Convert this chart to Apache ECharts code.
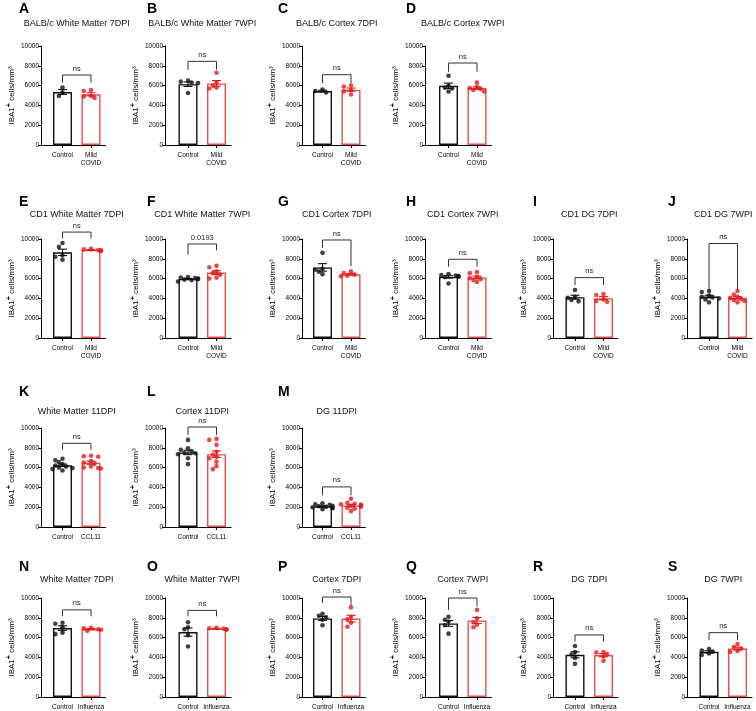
<!DOCTYPE html>
<html><head><meta charset="utf-8">
<script src="https://cdn.jsdelivr.net/npm/echarts@6/dist/echarts.min.js"></script>
<style>html,body{margin:0;padding:0;background:#fff}#c{width:756px;height:711px}</style>
</head><body><div id="c"></div>
<script>
// ---------------- DATA ----------------
const panelLetters = ['A','B','C','D','E','F','G','H','I','J','K','L','M','N','O','P','Q','R','S'];
const panelTitles = [
  'BALB/c White Matter 7DPI','BALB/c White Matter 7WPI','BALB/c Cortex 7DPI','BALB/c Cortex 7WPI',
  'CD1 White Matter 7DPI','CD1 White Matter 7WPI','CD1 Cortex 7DPI','CD1 Cortex 7WPI','CD1 DG 7DPI','CD1 DG 7WPI',
  'White Matter 11DPI','Cortex 11DPI','DG 11DPI',
  'White Matter 7DPI','White Matter 7WPI','Cortex 7DPI','Cortex 7WPI','DG 7DPI','DG 7WPI'
];
const labelsCOVID = ['Control', 'Mild\nCOVID'];
const labelsCCL11 = ['Control', 'CCL11'];
const labelsFlu = ['Control', 'Influenza'];
const yAxisTicks = [0, 2000, 4000, 6000, 8000, 10000];

const A_control = [5800, 5300, 4950];
const A_treated = [5550, 5450, 4950, 4900, 4750];
const B_control = [6500, 6400, 6300, 6250, 5250];
const B_treated = [7300, 6300, 6000, 5800, 5700];
const C_control = [5600, 5450, 5300];
const C_treated = [6000, 5900, 5550, 5400, 5100];
const D_control = [7000, 6000, 5800, 5700, 5400];
const D_treated = [6300, 5850, 5750, 5650, 5550, 5400];
const E_control = [9600, 9200, 8350, 8200, 7900];
const E_treated = [9000, 8950, 8880, 8850, 8800];
const F_control = [6150, 6100, 6050, 6000, 5950, 5900, 5850, 5700];
const F_treated = [7300, 7150, 6750, 6550, 6400, 6100, 6000];
const G_control = [8600, 7000, 6900, 6700, 6450];
const G_treated = [6700, 6550, 6400, 6300, 6250];
const H_control = [6450, 6350, 6300, 6250, 6200, 6150, 5500];
const H_treated = [6650, 6550, 6150, 6050, 5950, 5850, 5650];
const I_control = [4850, 4150, 4050, 3850, 3700];
const I_treated = [4450, 4350, 3900, 3750, 3650];
const J_control = [4750, 4650, 4300, 4150, 4100, 4000, 3900, 3600];
const J_treated = [4750, 4400, 4150, 4050, 3950, 3850, 3750, 3600];
const K_control = [6900, 6750, 6550, 6350, 6200, 6100, 6000, 5950, 5850, 5700];
const K_treated = [7200, 7150, 7100, 6650, 6500, 6400, 6100, 6000, 5950, 5900];
const L_control = [8800, 7950, 7800, 7650, 7500, 7450, 7350, 6950, 6350];
const L_treated = [8900, 8800, 8300, 7600, 7300, 7100, 6950, 6600, 6150, 5850];
const M_control = [2400, 2300, 2250, 2150, 2100, 2050, 2000, 1950, 1900, 1800];
const M_treated = [2850, 2450, 2350, 2300, 2250, 2200, 2150, 2050, 1950, 1850, 1600];
const N_control = [7500, 7400, 7050, 6500, 6350];
const N_treated = [7000, 6950, 6850, 6800, 6700];
const O_control = [7550, 7050, 6850, 6250, 5100];
const O_treated = [7000, 6950, 6900, 6850, 6800];
const P_control = [8400, 8200, 8050, 7800, 7250];
const P_treated = [9050, 8100, 7850, 7500, 7100];
const Q_control = [8100, 7800, 7600, 7250, 6400];
const Q_treated = [8800, 7950, 7550, 7300, 7050];
const R_control = [5150, 4550, 4300, 3950, 3350];
const R_treated = [4550, 4500, 4350, 4100, 3650];
const S_control = [4850, 4700, 4600, 4400, 4250];
const S_treated = [5350, 5050, 4900, 4650, 4550];

// significance brackets (data units): level, left-arm end, right-arm end, label
const bracketTop   = [7070, 8450, 7100, 8280, 10700, 9500, 9900, 7950, 6100, 9550, 8450, 10100, 4050, 8800, 8750, 10100, 10000, 6270, 6500];
const bracketLeft  = [6300, 7600, 6250, 7400, 10050, 8400, 9100, 7200, 5350, 4900, 7800, 9300, 3200, 8150, 8150, 9500, 8800, 5600, 5750];
const bracketRight = [6300, 7600, 6250, 7400, 10050, 8850, 7250, 7200, 5350, 4900, 7800, 9300, 3200, 8150, 8150, 9200, 9150, 5600, 5750];
const pLabels = ['ns','ns','ns','ns','ns','0.0193','ns','ns','ns','ns','ns','ns','ns','ns','ns','ns','ns','ns','ns'];

// ---------------- LAYOUT ----------------
const controlGroups = [A_control,B_control,C_control,D_control,E_control,F_control,G_control,H_control,I_control,J_control,K_control,L_control,M_control,N_control,O_control,P_control,Q_control,R_control,S_control];
const treatedGroups = [A_treated,B_treated,C_treated,D_treated,E_treated,F_treated,G_treated,H_treated,I_treated,J_treated,K_treated,L_treated,M_treated,N_treated,O_treated,P_treated,Q_treated,R_treated,S_treated];
const panelRow = [0,0,0,0,1,1,1,1,1,1,2,2,2,3,3,3,3,3,3];
const panelCol = [0,1,2,3,0,1,2,3,4,5,0,1,2,0,1,2,3,4,5];
const rowLabels = [labelsCOVID, labelsCOVID, labelsCCL11, labelsFlu];

const colAxisX = [41, 165, 302, 425, 553, 687];
const colCtrlX = [62.5, 188, 322.5, 448.5, 575, 709];
const rowTop = [46, 239, 428, 598];
const plotH = 99;
const letterX = [19, 147, 278, 406, 533, 668];
const letterY = [9, 202, 392, 567];
const titleY = [24, 215, 412, 580];
const UNIT = 28.5;       // px between the two groups
const BLACK = '#111';
const RED = '#e41a1c';
const REDBAR = '#e8504a';
const FONT = '"Liberation Sans", Arial, Helvetica, sans-serif';

function mean(a){ return a.reduce((s,v)=>s+v,0)/a.length; }
function sem(a){ const m=mean(a); const v=a.reduce((s,x)=>s+(x-m)*(x-m),0)/(a.length-1); return Math.sqrt(v/a.length); }
// simple beeswarm horizontal offsets (px)
function swarm(values){
  const pxPer = plotH/10000;
  const order = values.map((v,i)=>i).sort((a,b)=>values[b]-values[a]);
  const cands = [0,-3.6,3.6,-7.2,7.2,-10,10];
  const placed = []; const offs = new Array(values.length).fill(0);
  order.forEach(i=>{
    const y = values[i]*pxPer;
    let chosen = cands[cands.length-1];
    for (const c of cands){
      if (placed.every(p=>Math.hypot(p.x-c,p.y-y)>=4.0)){ chosen=c; break; }
    }
    offs[i]=chosen; placed.push({x:chosen,y});
  });
  return offs;
}

const grids=[], xAxes=[], yAxes=[], series=[], graphics=[];
panelLetters.forEach((L,k)=>{
  const r = panelRow[k], c = panelCol[k];
  const x0 = colAxisX[c], cx = colCtrlX[c];
  const right = cx + UNIT + 14.5;
  const labels = rowLabels[r];
  const ctrl = controlGroups[k], trt = treatedGroups[k];
  grids.push({left:x0, top:rowTop[r], width:right-x0, height:plotH});
  xAxes.push({gridIndex:k, type:'value', min:-(cx-x0)/UNIT, max:1+14.5/UNIT,
    axisLine:{show:true, onZero:false, lineStyle:{color:'#000', width:1}},
    axisTick:{show:true, customValues:[0,1], length:3, lineStyle:{color:'#000', width:1}},
    axisLabel:{show:true, customValues:[0,1], formatter:v=>labels[Math.round(v)], fontSize:6.5, lineHeight:8, margin:6, color:'#000', fontFamily:FONT},
    splitLine:{show:false}});
  yAxes.push({gridIndex:k, type:'value', min:yAxisTicks[0], max:yAxisTicks[yAxisTicks.length-1], interval:yAxisTicks[1]-yAxisTicks[0],
    axisLine:{show:true, onZero:false, lineStyle:{color:'#000', width:1}},
    axisTick:{show:true, length:3, lineStyle:{color:'#000', width:1}},
    axisLabel:{fontSize:6.5, margin:2, color:'#000', fontFamily:FONT, formatter:v=>String(v)},
    splitLine:{show:false},
    name:'{a|IBA1}{b|+}{a| cells/mm³}', nameLocation:'middle', nameGap:25, nameRotate:90,
    nameTextStyle:{fontFamily:FONT, color:'#000', rich:{
      a:{fontSize:8, fontFamily:FONT, color:'#000', verticalAlign:'bottom', lineHeight:11},
      b:{fontSize:7.5, fontFamily:FONT, color:'#000', fontWeight:'bold', verticalAlign:'top', lineHeight:11}}}});
  const mC = mean(ctrl), mT = mean(trt), sC = sem(ctrl), sT = sem(trt);
  series.push({type:'bar', xAxisIndex:k, yAxisIndex:k, barWidth:19, silent:true, z:2, animation:false,
    data:[{value:[0,mC], itemStyle:{color:'#fff', borderColor:BLACK, borderWidth:1.4}},
          {value:[1,mT], itemStyle:{color:'#fff', borderColor:REDBAR, borderWidth:1.4}}]});
  series.push({type:'custom', xAxisIndex:k, yAxisIndex:k, clip:false, silent:true, z:3, animation:false,
    renderItem:(params, api)=>{
      const x=api.value(0), m=api.value(1), s=api.value(2);
      const t=api.coord([x,m+s]), b=api.coord([x,m-s]);
      const col = x===0?BLACK:RED; const hw=4.5;
      const st={stroke:col, lineWidth:1.1};
      return {type:'group', children:[
        {type:'line', shape:{x1:t[0],y1:t[1],x2:b[0],y2:b[1]}, style:st},
        {type:'line', shape:{x1:t[0]-hw,y1:t[1],x2:t[0]+hw,y2:t[1]}, style:st},
        {type:'line', shape:{x1:b[0]-hw,y1:b[1],x2:b[0]+hw,y2:b[1]}, style:st}]};
    },
    data:[[0,mC,sC],[1,mT,sT]]});
  const oc = swarm(ctrl), ot = swarm(trt);
  series.push({type:'scatter', xAxisIndex:k, yAxisIndex:k, symbolSize:4.6, silent:true, z:4, animation:false,
    itemStyle:{color:BLACK}, data:ctrl.map((v,i)=>[oc[i]/UNIT, v])});
  series.push({type:'scatter', xAxisIndex:k, yAxisIndex:k, symbolSize:4.6, silent:true, z:4, animation:false,
    itemStyle:{color:RED}, data:trt.map((v,i)=>[1+ot[i]/UNIT, v])});
  const lab = pLabels[k];
  series.push({type:'custom', xAxisIndex:k, yAxisIndex:k, clip:false, silent:true, z:5, animation:false,
    renderItem:(params, api)=>{
      const t=api.value(0), l=api.value(1), rr=api.value(2);
      const p1=api.coord([0,l]), p2=api.coord([0,t]), p3=api.coord([1,t]), p4=api.coord([1,rr]);
      return {type:'group', children:[
        {type:'polyline', shape:{points:[p1,p2,p3,p4]}, style:{stroke:'#333', fill:null, lineWidth:1}},
        {type:'text', style:{text:lab, x:(p2[0]+p3[0])/2, y:p2[1]-2.5, align:'center', verticalAlign:'bottom', fontSize:7.5, fontFamily:FONT, fill:'#222'}}]};
    },
    data:[[bracketTop[k], bracketLeft[k], bracketRight[k]]]});
  graphics.push({type:'text', x:letterX[c], y:letterY[r], style:{text:L, fontSize:14, fontWeight:'bold', fontFamily:FONT, fill:'#000', verticalAlign:'middle'}});
  graphics.push({type:'text', x:cx+UNIT/2, y:titleY[r], style:{text:panelTitles[k], fontSize:9, fontFamily:FONT, fill:'#111', align:'center', verticalAlign:'middle'}});
});

const chart = echarts.init(document.getElementById('c'), null, {renderer:'canvas'});
chart.setOption({animation:false, backgroundColor:'#fff', textStyle:{fontFamily:FONT},
  grid:grids, xAxis:xAxes, yAxis:yAxes, series:series, graphic:graphics});
</script></body></html>
